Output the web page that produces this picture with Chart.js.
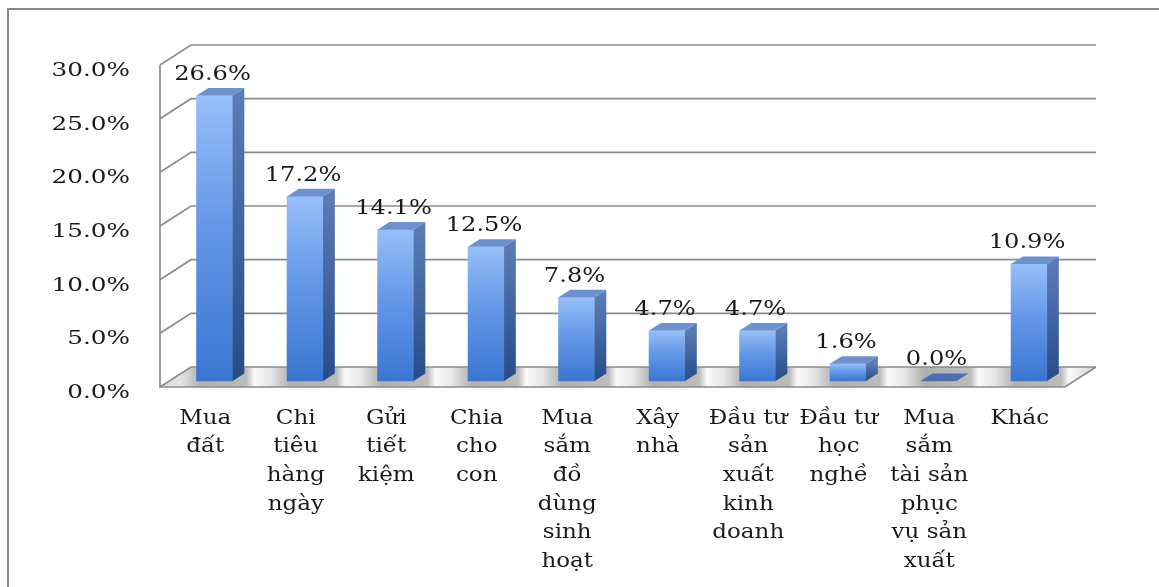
<!DOCTYPE html>
<html><head><meta charset="utf-8">
<script src="https://cdn.jsdelivr.net/npm/chart.js@4.4.1/dist/chart.umd.min.js"></script>
<style>html,body{margin:0;padding:0;background:#fff;overflow:hidden}
#wrap{position:relative;width:1159px;height:587px}</style></head>
<body><div id="wrap"><canvas id="c"></canvas></div>
<script>
const categories = [["Mua","đất"],["Chi","tiêu","hàng","ngày"],["Gửi","tiết","kiệm"],["Chia","cho","con"],["Mua","sắm","đồ","dùng","sinh","hoạt"],["Xây","nhà"],["Đầu tư","sản","xuất","kinh","doanh"],["Đầu tư","học","nghề"],["Mua","sắm","tài sản","phục","vụ sản","xuất"],["Khác"]];
const values = [26.6, 17.2, 14.1, 12.5, 7.8, 4.7, 4.7, 1.6, 0.0, 10.9];
const yTicks = [0, 5, 10, 15, 20, 25, 30];
const yTickLabels = ["0.0%", "5.0%", "10.0%", "15.0%", "20.0%", "25.0%", "30.0%"];

const DX = 31, DY = 20, SH = 4, BT = 0.3, BD = 0.38;
const FONT = "'DejaVu Serif', 'Liberation Serif', serif";

function frontGrad(context) {
  const chart = context.chart;
  const y = chart.scales.y;
  if (!y || context.dataIndex === undefined) return '#4a86dc';
  const v = values[context.dataIndex];
  const top = y.getPixelForValue(v), base = y.getPixelForValue(0);
  if (!isFinite(top) || base - top < 1) return '#4a86dc';
  const g = chart.ctx.createLinearGradient(0, top, 0, base);
  g.addColorStop(0, '#97bff8');
  g.addColorStop(0.45, '#6598e8');
  g.addColorStop(1, '#3a76d1');
  return g;
}

function stretchText(ctx, txt, x, y, sx) {
  ctx.save();
  ctx.translate(x, y);
  ctx.scale(sx, 1);
  ctx.fillText(txt, 0, 0);
  ctx.restore();
}

const depth3d = {
  id: 'depth3d',
  beforeDraw(chart) {
    const ctx = chart.ctx;
    ctx.save();
    ctx.strokeStyle = '#8a8a8a';
    ctx.lineWidth = 2;
    ctx.beginPath();
    ctx.moveTo(8, 600); ctx.lineTo(8, 9); ctx.lineTo(1170, 9);
    ctx.stroke();
    ctx.restore();
  },
  beforeDatasetsDraw(chart) {
    const {ctx, chartArea: a, scales: {x, y}} = chart;
    const xl = a.left, xr = a.right;
    const yf = y.getPixelForValue(0) - SH;
    ctx.save();
    // floor
    const g = ctx.createLinearGradient(xl, 0, xr + DX, 0);
    const W = xr + DX - xl;
    const add = (px, col) => { const f = (px - xl) / W; if (f >= 0 && f <= 1) g.addColorStop(f, col); };
    add(xl, '#dedede');
    values.forEach((v, i) => {
      const c = x.getPixelForValue(i) + (BT + BD / 2) * DX;
      add(c - 40, '#e6e6e6');
      add(c - 20, '#b0b0b0');
      add(c + 26, '#bcbcbc');
      add(c + 34, '#fafafa');
    });
    add(xr + DX, '#d4d4d4');
    ctx.fillStyle = g;
    ctx.beginPath();
    ctx.moveTo(xl, yf); ctx.lineTo(xl + DX, yf - DY); ctx.lineTo(xr + DX, yf - DY); ctx.lineTo(xr, yf);
    ctx.closePath(); ctx.fill();
    // grid
    ctx.strokeStyle = '#8c8c8c';
    ctx.lineWidth = 1.7;
    yTicks.forEach(v => {
      const p = y.getPixelForValue(v) - SH;
      ctx.beginPath();
      ctx.moveTo(xl, p); ctx.lineTo(xl + DX, p - DY); ctx.lineTo(xr + DX, p - DY);
      ctx.stroke();
    });
    ctx.beginPath();
    ctx.moveTo(xl, y.getPixelForValue(yTicks[yTicks.length - 1]) - SH);
    ctx.lineTo(xl, yf); ctx.lineTo(xr, yf); ctx.lineTo(xr + DX, yf - DY);
    ctx.stroke();
    // axis labels
    ctx.fillStyle = '#1a1a1a';
    ctx.font = "19px " + FONT;
    ctx.textAlign = 'right';
    ctx.textBaseline = 'middle';
    yTicks.forEach((v, i) => {
      stretchText(ctx, yTickLabels[i], xl - 30, y.getPixelForValue(v) + 2, 1.3);
    });
    ctx.font = "20px " + FONT;
    ctx.textAlign = 'center';
    categories.forEach((lines, i) => {
      const cx = x.getPixelForValue(i);
      lines.forEach((ln, k) => {
        stretchText(ctx, ln, cx, a.bottom + 27.5 + k * 28.6, 1.15);
      });
    });
    ctx.restore();
    ctx.save();
    ctx.translate(BT * DX, -SH - BT * DY);
  },
  afterDatasetsDraw(chart) {
    const ctx = chart.ctx;
    ctx.restore();
    const meta = chart.getDatasetMeta(0);
    const ox = BT * DX, oy = -SH - BT * DY, sx = BD * DX, sy = -BD * DY;
    ctx.save();
    meta.data.forEach((bar, i) => {
      const w = bar.width;
      const x0 = bar.x - w / 2 + ox, x1 = bar.x + w / 2 + ox;
      const yt = bar.y + oy, yb = bar.base + oy;
      if (yb - yt > 0.5) {
        const sg = ctx.createLinearGradient(0, yt, 0, yb);
        sg.addColorStop(0, '#5a7bb5');
        sg.addColorStop(1, '#274b89');
        ctx.fillStyle = sg;
        ctx.beginPath();
        ctx.moveTo(x1, yt); ctx.lineTo(x1 + sx, yt + sy); ctx.lineTo(x1 + sx, yb + sy); ctx.lineTo(x1, yb);
        ctx.closePath(); ctx.fill();
      }
      ctx.fillStyle = values[i] === 0 ? '#4d6dae' : '#6e91cb';
      ctx.beginPath();
      ctx.moveTo(x0, yt); ctx.lineTo(x1, yt); ctx.lineTo(x1 + sx, yt + sy); ctx.lineTo(x0 + sx, yt + sy);
      ctx.closePath(); ctx.fill();
      ctx.fillStyle = '#1a1a1a';
      ctx.font = "21px " + FONT;
      ctx.textAlign = 'center';
      ctx.textBaseline = 'alphabetic';
      stretchText(ctx, values[i].toFixed(1) + '%', bar.x + ox - 2, yt + sy - 8, 1.15);
    });
    ctx.restore();
  }
};

new Chart(document.getElementById('c'), {
  type: 'bar',
  data: {
    labels: categories,
    datasets: [{
      data: values,
      backgroundColor: frontGrad,
      borderWidth: 0,
      barThickness: 36,
      clip: false
    }]
  },
  options: {
    responsive: true,
    maintainAspectRatio: false,
    animation: false,
    events: [],
    layout: { padding: { top: 69, right: 94, left: 0, bottom: 0 } },
    plugins: { legend: { display: false }, tooltip: { enabled: false } },
    scales: {
      x: {
        grid: { display: false, drawTicks: false },
        border: { display: false },
        ticks: { display: false, autoSkip: false, maxRotation: 0 },
        afterFit(s) { s.height = 196; }
      },
      y: {
        min: 0, max: 30,
        grid: { display: false, drawTicks: false },
        border: { display: false },
        ticks: { display: false, stepSize: 5 },
        afterFit(s) { s.width = 160; }
      }
    }
  },
  plugins: [depth3d]
});
</script>
</body></html>
